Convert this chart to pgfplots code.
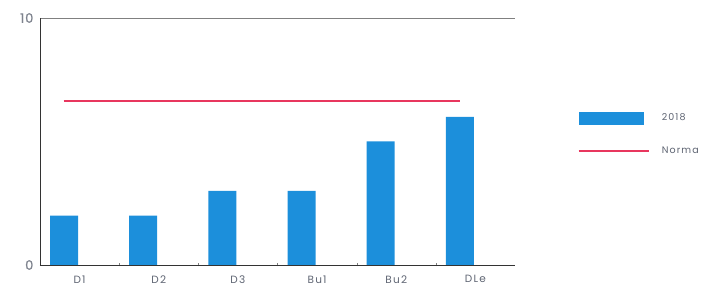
\documentclass[border=0pt]{standalone}
\usepackage{pgfplots}
\pgfplotsset{compat=1.18}
\usepackage{fontspec}
\setmainfont{Poppins}
\newfontfamily\wide[LetterSpace=12]{Poppins}
\newfontfamily\widebold[LetterSpace=6,FakeBold=1.2]{Poppins}
\definecolor{barblue}{HTML}{1C8FDB}
\definecolor{normared}{HTML}{E8365E}
\definecolor{txtgray}{HTML}{5E6472}
\begin{document}
\begin{tikzpicture}
\begin{axis}[
  at={(0pt,0pt)}, anchor=south west,
  width=475pt, height=247pt, scale only axis,
  xmin=-0.5, xmax=5.5, ymin=0, ymax=10,
  axis x line*=bottom, axis y line*=left,
  axis line style={-, black!80, line width=0.9pt},
  xtick={0,...,5},
  xticklabels={D1,D2,D3,Bu1,Bu2,DLe},
  minor xtick={0.5,1.5,2.5,3.5,4.5},
  major x tick style={draw=none},
  minor tick length=3pt,
  tick align=center,
  ytick={0,10},
  major y tick style={draw=none},
  ymajorgrids, grid style={black!50, line width=0.8pt},
  xticklabel style={font=\wide\fontsize{10.5}{12}\selectfont, text=txtgray, yshift=-5pt},
  yticklabel style={font=\widebold\fontsize{13}{14}\selectfont, text=txtgray!80, xshift=-1pt},
  /pgf/number format/assume math mode=true,
  clip=false,
  legend style={draw=none, at={(1.125,0.63)}, anchor=north west,
    font=\wide\fontsize{9.5}{11}\selectfont, text=txtgray, row sep=20pt,
    nodes={inner xsep=12pt}},
  legend cell align=left,
]
\addplot[ybar, bar width=28pt, bar shift=-15.5pt, fill=barblue, draw=none,
  legend image code/.code={\fill[barblue] (0pt,-6.5pt) rectangle (65pt,6.5pt);}]
  coordinates {(0,2) (1,2) (2,3) (3,3) (4,5) (5,6)};
\addlegendentry{2018}
\addplot[normared, line width=2.2pt,
  legend image code/.code={\draw[normared, line width=2.2pt] (0pt,0pt) -- (70pt,0pt);}]
  coordinates {(-0.2,6.65) (4.8,6.65)};
\addlegendentry{Norma}
\end{axis}
\path[use as bounding box] (-40pt,-29pt) rectangle (680pt,265pt);
\end{tikzpicture}
\end{document}
